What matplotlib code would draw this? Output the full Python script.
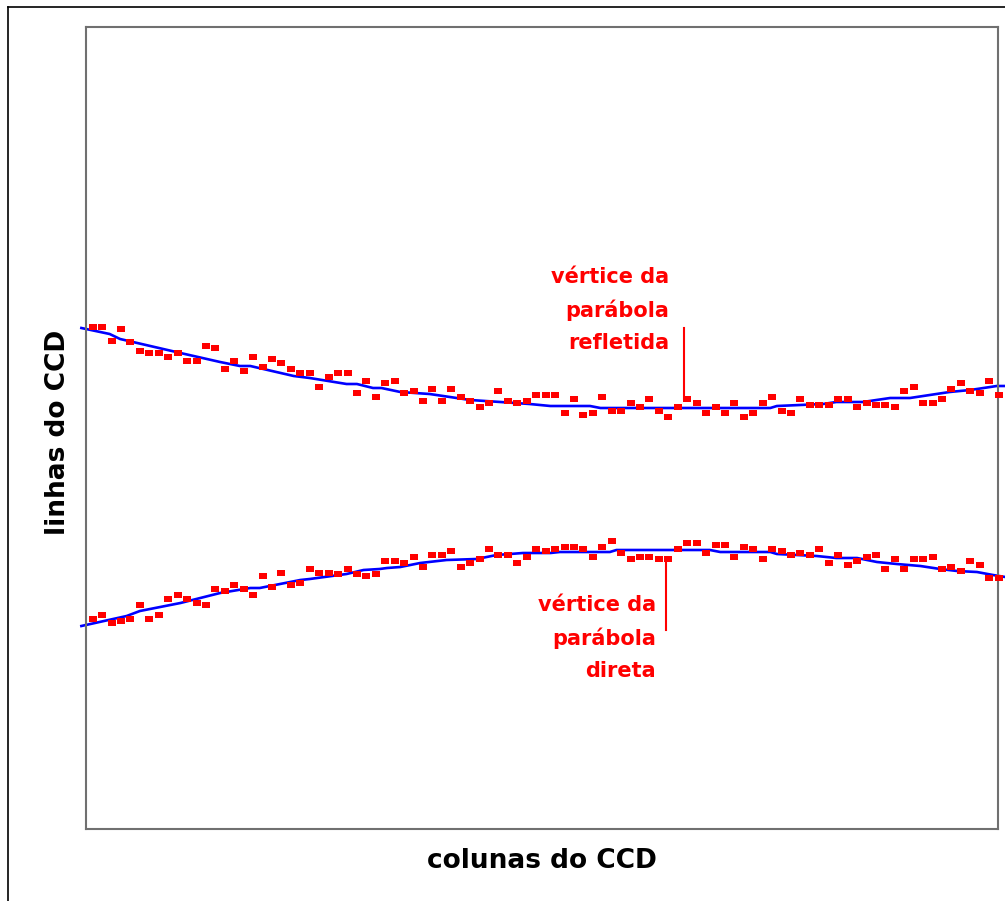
import numpy as np
import matplotlib
matplotlib.use("Agg")
import matplotlib.pyplot as plt
from matplotlib.lines import Line2D

# column index of each measured point
columns = np.arange(97)

# row of the reflected parabola (upper) for every column
rows_reflected = [502, 502, 488, 500, 487, 478, 476, 476, 472, 476,
                  468, 468, 483, 481, 460, 468, 458, 472, 462, 470,
                  466, 460, 456, 456, 442, 452, 456, 456, 436, 448,
                  432, 446, 448, 436, 438, 428, 440, 428, 440, 432,
                  428, 422, 426, 438, 428, 426, 428, 434, 434, 434,
                  416, 430, 414, 416, 432, 418, 418, 426, 422, 430,
                  418, 412, 422, 430, 426, 416, 422, 416, 426, 412,
                  416, 426, 432, 418, 416, 430, 424, 424, 424, 430,
                  430, 422, 426, 424, 424, 422, 438, 442, 426, 426,
                  430, 440, 446, 438, 436, 448, 434]

# row of the direct parabola (lower) for every column
rows_direct = [210, 214, 206, 208, 210, 224, 210, 214, 230, 234,
               230, 226, 224, 240, 238, 244, 240, 234, 253, 242,
               256, 244, 246, 260, 256, 256, 255, 260, 255, 253,
               255, 268, 268, 266, 272, 262, 274, 274, 278, 262,
               266, 270, 280, 274, 274, 266, 272, 280, 278, 280,
               282, 282, 280, 272, 282, 288, 276, 270, 272, 272,
               270, 270, 280, 286, 286, 276, 284, 284, 272, 282,
               280, 270, 280, 278, 274, 276, 274, 280, 266, 274,
               264, 268, 272, 274, 260, 270, 260, 270, 270, 272,
               260, 262, 258, 268, 264, 251, 251]

# smoothed curves (blue)
fit_reflected_x = [-1.2, 1.8, 2.9, 9.3, 13.5, 15.6, 16.7, 21.3, 23.0, 26.9,
                   28.0, 29.7, 30.6, 32.6, 35.7, 40.0, 43.2, 46.3, 48.5, 52.7,
                   53.8, 65.1, 71.8, 72.5, 77.4, 78.8, 81.6, 84.5, 86.6, 88.0,
                   90.8, 93.0, 95.8, 96.7]
fit_reflected_y = [501, 495, 490, 476, 467, 463, 463, 453, 451, 445,
                   445, 441, 441, 437, 435, 429, 427, 425, 423, 423,
                   421, 421, 421, 423, 425, 427, 427, 431, 431, 433,
                   437, 439, 443, 443]

fit_direct_x = [-1.2, 3.6, 5.0, 9.3, 13.5, 16.7, 17.7, 22.0, 23.0, 26.9,
                28.7, 30.4, 31.2, 32.6, 34.7, 37.5, 40.7, 42.8, 45.6, 48.5,
                49.5, 54.8, 55.5, 65.4, 66.5, 71.8, 72.5, 76.7, 78.8, 81.0,
                83.1, 85.2, 87.7, 89.8, 91.6, 93.7, 95.4, 96.7]
fit_direct_y = [203, 213, 218, 226, 236, 241, 241, 249, 250, 255,
                259, 260, 261, 262, 266, 269, 270, 274, 276, 276,
                277, 277, 279, 279, 277, 277, 275, 273, 271, 271,
                267, 265, 263, 260, 258, 257, 254, 252]

# vertex markers: column and (top, bottom) rows of the red pointer lines
vertex_reflected = (62.65, 501, 430)
vertex_direct = (60.72, 270, 199)

fig = plt.figure(figsize=(10.05, 9.01), dpi=100)
ax = fig.add_axes([86 / 1005, 72 / 901, 912 / 1005, 802 / 901])

rect = [(-1, -0.6), (1, -0.6), (1, 0.6), (-1, 0.6), (-1, -0.6)]
for rows in (rows_reflected, rows_direct):
    ax.plot(columns, rows, linestyle='none', marker=rect, markersize=6.3,
            color='#ff0000', markeredgewidth=0, clip_on=False, zorder=3)

ax.plot(fit_reflected_x, fit_reflected_y, color='#0000ff', lw=1.9,
        clip_on=False, zorder=2)
ax.plot(fit_direct_x, fit_direct_y, color='#0000ff', lw=1.9,
        clip_on=False, zorder=2)

for xv, y0, y1 in (vertex_reflected, vertex_direct):
    ax.plot([xv, xv], [y0, y1], color='#ff0000', lw=1.5, zorder=3)

ax.text(61.07, 519, 'vértice da\nparábola\nrefletida', color='#ff0000',
        fontsize=15, fontweight='bold', ha='right', va='center',
        multialignment='right', linespacing=1.72)
ax.text(59.69, 191, 'vértice da\nparábola\ndireta', color='#ff0000',
        fontsize=15, fontweight='bold', ha='right', va='center',
        multialignment='right', linespacing=1.72)

ax.set_xlim(-0.71, 95.93)
ax.set_ylim(0, 802)
ax.set_xticks([])
ax.set_yticks([])
for sp in ax.spines.values():
    sp.set_color('#707070')
    sp.set_linewidth(1.5)

fig.text(542 / 1005, 1 - 868 / 901, 'colunas do CCD', fontsize=19,
         fontweight='bold', ha='center', va='baseline')
fig.text(65 / 1005, 1 - 432 / 901, 'linhas do CCD', fontsize=19,
         fontweight='bold', ha='center', va='baseline', rotation=90,
         rotation_mode='anchor')

# outer frame (only left and top edges are inside the picture)
fig.add_artist(Line2D([8 / 1005, 8 / 1005], [0, 1 - 7 / 901], color='black', lw=1.2))
fig.add_artist(Line2D([8 / 1005, 1], [1 - 7 / 901, 1 - 7 / 901], color='black', lw=1.2))

fig.savefig('out.png', dpi=100)
